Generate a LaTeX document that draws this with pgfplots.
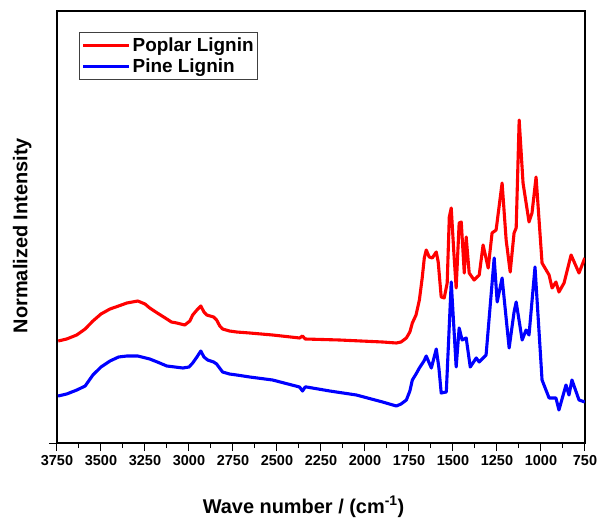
\documentclass[border=0pt]{standalone}
\usepackage{fontspec}
\setmainfont{Liberation Sans}
\usepackage{pgfplots}
\pgfplotsset{compat=1.18}
\usepackage{pgfplotstable}

% FTIR spectra, values (wavenumber, normalized intensity)
\pgfplotstableread{
wn    y
3743  102
3695  104
3638  108
3590  114
3546  122
3500  129
3449  134
3400  137
3353  140
3291  142
3250  139
3223  135
3180  130
3126  124
3100  121
3069  120
3024  118
2995  122
2979  128
2955  133
2933  137
2915  131
2899  128
2860  126
2843  123
2825  117
2809  114
2770  112
2729  111
2655  110
2525  108
2372  105
2355  107
2340  104
2145  103
1900  101
1822  100
1795  101
1765  105
1745  111
1731  120
1710  128
1691  143
1675  165
1663  185
1652  193
1635  186
1618  185
1595  191
1584  181
1567  146
1550  145
1533  160
1521  226
1510  235
1495  190
1482  155
1465  220
1453  221
1436  170
1425  206
1408  170
1380  163
1351  168
1329  198
1300  175
1278  210
1255  213
1221  260
1198  203
1175  171
1153  210
1141  215
1124  323
1102  260
1068  221
1051  230
1028  266
994   180
954   168
937   155
915   161
898   151
869   160
829   188
784   170
751   185
}\poplar

\pgfplotstableread{
wn    y
3744  47
3695  49
3637  53
3590  57
3546  68
3500  76
3449  82
3400  86
3353  87
3291  87
3223  84
3180  81
3126  77
3035  75
3000  76
2979  80
2955  86
2933  92
2915  86
2894  83
2860  81
2843  79
2809  71
2770  69
2729  68
2655  66
2525  63
2372  56
2355  52
2340  56
2332  56
2200  52
2049  48
1900  41
1822  37
1795  39
1765  43
1745  52
1731  63
1710  69
1691  75
1665  82
1652  87
1623  75
1595  94
1580  75
1567  50
1538  51
1510  161
1482  76
1465  115
1448  103
1425  105
1402  76
1368  85
1351  81
1312  88
1266  185
1249  141
1221  165
1181  95
1153  131
1141  141
1107  103
1085  113
1068  108
1034  176
994   63
954   45
915   45
898   33
858   58
841   48
824   63
784   43
751   41
}\pine

\begin{document}
\begin{tikzpicture}
\begin{axis}[
	name=ax,
	width=528bp, height=432bp,
	scale only axis,
	x dir=reverse,
	xmin=750, xmax=3750,
	ymin=0, ymax=432,
	xtick={750,1000,...,3750},
	minor x tick num=1,
	ytick={0},
	yticklabels={},
	xtick pos=bottom,
	ytick pos=left,
	tick align=outside,
	major tick length=8bp,
	minor tick length=5bp,
	axis line style={line width=1.2pt},
	every tick/.style={black, line width=1pt},
	/pgf/number format/assume math mode=true,
	/pgf/number format/1000 sep={},
	tick label style={font=\bfseries\fontsize{14.5}{16}\selectfont},
	xticklabel style={yshift=-1bp},
	xlabel={Wave number / (cm\textsuperscript{-1})},
	ylabel={Normalized Intensity},
	label style={font=\bfseries\fontsize{20}{22}\selectfont},
	xlabel style={at={(axis description cs:0.467,-0.148)}, anchor=center},
	ylabel style={at={(axis description cs:-0.066,0.48)}, anchor=center},
	legend style={
		at={(axis description cs:0.042,0.951)}, anchor=north west,
		draw=black!75, line width=0.8pt,
		font=\bfseries\fontsize{19}{21}\selectfont,
		inner xsep=2bp, inner ysep=3bp, row sep=2bp,
		cells={anchor=west},
	},
	legend image code/.code={\draw[#1] (0bp,0bp) -- (46bp,0bp);},
]
\addplot[color=red, line width=3.1bp, line join=round] table[x=wn, y=y] {\poplar};
\addlegendentry{Poplar Lignin}
\addplot[color=blue, line width=3.1bp, line join=round] table[x=wn, y=y] {\pine};
\addlegendentry{Pine Lignin}
\end{axis}
\pgfresetboundingbox
\path[use as bounding box] ([shift={(-57bp,-80bp)}]ax.south west) rectangle ([shift={(19bp,11bp)}]ax.north east);
\end{tikzpicture}
\end{document}
